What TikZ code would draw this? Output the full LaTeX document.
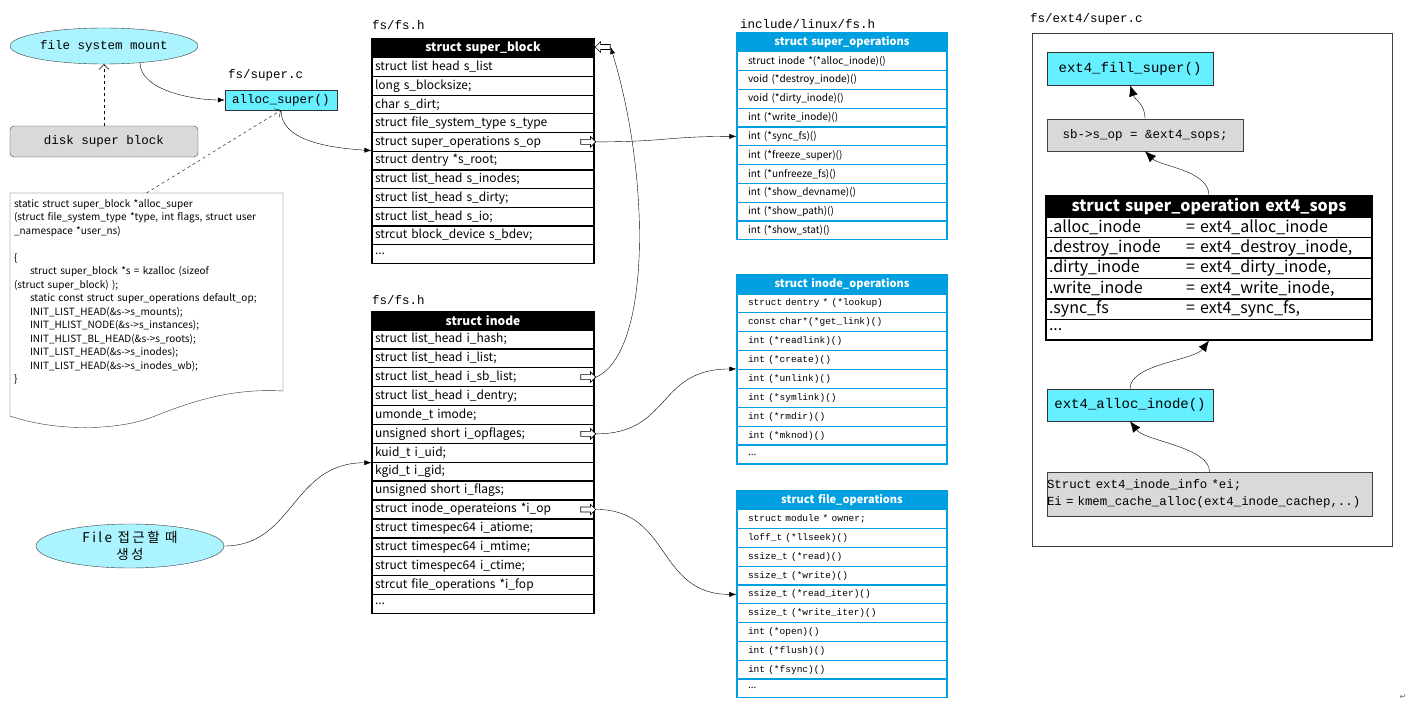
\documentclass[tikz,border=0pt]{standalone}
\usepackage{fontspec}
\setmainfont{Noto Sans CJK KR}
\setmonofont{Liberation Mono}
\newfontfamily\korfont[LetterSpace=18]{Noto Sans CJK KR}
\newfontfamily\symfont{DejaVu Sans}
\usetikzlibrary{shapes.geometric, shapes.arrows, arrows.meta, positioning}

\definecolor{mountcyan}{HTML}{ABF4FF}
\definecolor{funccyan}{HTML}{66F0FF}
\definecolor{diskgray}{HTML}{D9D9D9}
\definecolor{opblue}{HTML}{00A0E0}

\begin{document}
\begin{tikzpicture}[x=1pt, y=-1pt]
		\tikzstyle{Row} = [rectangle, draw=black, line width=1.2pt, fill=white, minimum height=18.7pt, text width=216pt, inner xsep=3pt, inner ysep=0pt, font=\fontsize{12}{12}\selectfont]
		\tikzstyle{Head} = [Row, fill=black, text=white, align=center, font=\bfseries\fontsize{12}{12}\selectfont]
		\tikzstyle{OpRow} = [rectangle, draw=opblue, line width=1.2pt, fill=white, minimum height=18.8pt, text width=188pt, inner xsep=11pt, inner ysep=0pt, font=\fontsize{10}{10}\selectfont]
		\tikzstyle{OpHead} = [OpRow, fill=opblue, text=white, align=center, font=\bfseries\fontsize{11}{11}\selectfont]
		\tikzstyle{OpMono} = [OpRow, font=\ttfamily\fontsize{9.5}{9.5}\selectfont]
		\tikzstyle{ExtRow} = [Row, minimum height=20.5pt, text width=320pt, font=\fontsize{16}{16}\selectfont]
		\tikzstyle{ExtHead} = [ExtRow, fill=black, text=white, align=center, minimum height=21pt, font=\bfseries\fontsize{16}{16}\selectfont]
		\tikzstyle{Ptr} = [single arrow, draw=black, fill=white, line width=0.6pt, minimum height=15pt, minimum width=10pt, single arrow head extend=2.8pt, inner sep=2.2pt]
		\tikzstyle{Func} = [rectangle, draw=black!80, fill=funccyan, inner sep=0pt, font=\ttfamily\fontsize{14}{14}\selectfont]
		\tikzstyle{Gray} = [rectangle, draw=black!75, fill=diskgray, inner sep=0pt, font=\ttfamily\fontsize{12.5}{12.5}\selectfont]
		\tikzstyle{Path} = [anchor=west, inner sep=0pt, font=\ttfamily\fontsize{12.5}{12.5}\selectfont]
		\tikzstyle{link} = [thin, -{Latex[length=7pt, width=5pt]}]
		\tikzstyle{biglink} = [thin, -{Latex[length=11pt, width=9pt]}]
		\tikzstyle{dashlink} = [thin, dashed, -{Straight Barb[length=5pt, width=10pt]}]
		
		\useasboundingbox (0,0) rectangle (1413,712);
		
		% file names
		\node (fsh1) [Path] at (372,25) {fs/fs.h};
		\node (superc) [Path] at (228,75) {fs/super.c};
		\node (fsh2) [Path] at (372,300) {fs/fs.h};
		\node (linuxfs) [Path] at (740,24) {include/linux/fs.h};
		\node (ext4c) [Path] at (1030,19) {fs/ext4/super.c};
		
		% mount and alloc_super
		\node (mount) [ellipse, draw=black!75, fill=mountcyan, minimum width=188pt, minimum height=36pt, inner sep=0pt, font=\ttfamily\fontsize{12.5}{12.5}\selectfont] at (104,46) {file system mount};
		\node (disk) [Gray, rounded corners=4pt, minimum width=188pt, minimum height=31pt] at (104,141.5) {disk super block};
		\node (alloc) [Func, minimum width=112pt, minimum height=20pt, font=\ttfamily\fontsize{12.5}{12.5}\selectfont] at (281,100) {alloc\_super()};
		
		\draw [thin, draw=black!80, fill=white] (10,193) -- (283,193) -- (283,391) .. controls (230,388) and (190,402) .. (150,418) .. controls (110,432) and (50,430) .. (10,416) -- cycle;
		\node (code) [anchor=north, text width=265pt, inner xsep=4pt, inner ysep=6pt, align=left, font=\fontsize{10}{13.5}\selectfont] at (146.5,193) {static struct super\_block *alloc\_super\\
(struct file\_system\_type *type, int flags, struct user\\
\_namespace *user\_ns)\\[13.5pt]
\{\\
\hspace*{16pt}struct super\_block *s = kzalloc (sizeof\\
(struct super\_block) );\\
\hspace*{16pt}static const struct super\_operations default\_op;\\
\hspace*{16pt}INIT\_LIST\_HEAD(\&s->s\_mounts);\\
\hspace*{16pt}INIT\_HLIST\_NODE(\&s->s\_instances);\\
\hspace*{16pt}INIT\_HLIST\_BL\_HEAD(\&s->s\_roots);\\
\hspace*{16pt}INIT\_LIST\_HEAD(\&s->s\_inodes);\\
\hspace*{16pt}INIT\_LIST\_HEAD(\&s->s\_inodes\_wb);\\
\}};
		
		\node (fileev) [ellipse, draw=black!75, fill=mountcyan, minimum width=188pt, minimum height=44pt, inner sep=0pt, align=center, font=\korfont\fontsize{13.5}{16.5}\selectfont] at (130,546) {File 접근할 때\\생성};
		
		% struct super_block
		\node (sb) [Head] at (483,48.35) {struct super\_block};
		\node (slist) [Row] at (483,67.05) {struct list head s\_list};
		\node (bsize) [Row] at (483,85.75) {long s\_blocksize;};
		\node (dirt) [Row] at (483,104.45) {char s\_dirt;};
		\node (stype) [Row] at (483,123.15) {struct file\_system\_type s\_type};
		\node (sop) [Row] at (483,141.85) {struct super\_operations s\_op};
		\node (sroot) [Row] at (483,160.55) {struct dentry *s\_root;};
		\node (sinodes) [Row] at (483,179.25) {struct list\_head s\_inodes;};
		\node (sdirty) [Row] at (483,197.95) {struct list\_head s\_dirty;};
		\node (sio) [Row] at (483,216.65) {struct list\_head s\_io;};
		\node (sbdev) [Row] at (483,235.35) {strcut block\_device s\_bdev;};
		\node (sdots) [Row] at (483,254.05) {...};
		\node (sopptr) [Ptr] at (587,141.85) {};
		\node (sbptr) [Ptr, shape border rotate=180] at (604,47) {};
		
		% struct inode
		\node (ino) [Head] at (483,320.45) {struct inode};
		\node (ihash) [Row] at (483,339.35) {struct list\_head i\_hash;};
		\node (ilist) [Row] at (483,358.25) {struct list\_head i\_list;};
		\node (isblist) [Row] at (483,377.15) {struct list\_head i\_sb\_list;};
		\node (identry) [Row] at (483,396.05) {struct list\_head i\_dentry;};
		\node (imode) [Row] at (483,414.95) {umonde\_t imode;};
		\node (iopfl) [Row] at (483,433.85) {unsigned short i\_opflages;};
		\node (uid) [Row] at (483,452.75) {kuid\_t i\_uid;};
		\node (gid) [Row] at (483,471.65) {kgid\_t i\_gid;};
		\node (iflags) [Row] at (483,490.55) {unsigned short i\_flags;};
		\node (iop) [Row] at (483,509.45) {struct inode\_operateions *i\_op};
		\node (atime) [Row] at (483,528.35) {struct timespec64 i\_atiome;};
		\node (mtime) [Row] at (483,547.25) {struct timespec64 i\_mtime;};
		\node (ctime) [Row] at (483,566.15) {struct timespec64 i\_ctime;};
		\node (ifop) [Row] at (483,585.05) {strcut file\_operations *i\_fop};
		\node (idots) [Row] at (483,603.95) {...};
		\node (sblptr) [Ptr] at (587,377.15) {};
		\node (opfptr) [Ptr] at (587,433.85) {};
		\node (iopptr) [Ptr] at (587,509.45) {};
		
		% struct super_operations
		\node (sops) [OpHead] at (842,42.4) {struct super\_operations};
		\node (allocino) [OpRow] at (842,61.2) {struct inode *(*alloc\_inode)()};
		\node (destroy) [OpRow] at (842,80) {void (*destroy\_inode)()};
		\node (dirty) [OpRow] at (842,98.8) {void (*dirty\_inode)()};
		\node (write) [OpRow] at (842,117.6) {int (*write\_inode)()};
		\node (syncfs) [OpRow] at (842,136.4) {int (*sync\_fs)()};
		\node (freeze) [OpRow] at (842,155.2) {int (*freeze\_super)()};
		\node (unfreeze) [OpRow] at (842,174) {int (*unfreeze\_fs)()};
		\node (devname) [OpRow] at (842,192.8) {int (*show\_devname)()};
		\node (spath) [OpRow] at (842,211.6) {int (*show\_path)()};
		\node (sstat) [OpRow] at (842,230.4) {int (*show\_stat)()};
		
		% struct inode_operations
		\node (iops) [OpHead] at (842,284.45) {struct inode\_operations};
		\node (lookup) [OpMono] at (842,303.35) {struct dentry * (*lookup)};
		\node (getlink) [OpMono] at (842,322.25) {const char*(*get\_link)()};
		\node (readlink) [OpMono] at (842,341.15) {int (*readlink)()};
		\node (create) [OpMono] at (842,360.05) {int (*create)()};
		\node (unlink) [OpMono] at (842,378.95) {int (*unlink)()};
		\node (symlink) [OpMono] at (842,397.85) {int (*symlink)()};
		\node (rmdir) [OpMono] at (842,416.75) {int (*rmdir)()};
		\node (mknod) [OpMono] at (842,435.65) {int (*mknod)()};
		\node (idots2) [OpRow] at (842,454.55) {...};
		
		% struct file_operations
		\node (fops) [OpHead] at (842,500.4) {struct file\_operations};
		\node (owner) [OpMono] at (842,519.2) {struct module * owner;};
		\node (llseek) [OpMono] at (842,538) {loff\_t (*llseek)()};
		\node (fread) [OpMono] at (842,556.8) {ssize\_t (*read)()};
		\node (fwrite) [OpMono] at (842,575.6) {ssize\_t (*write)()};
		\node (readiter) [OpMono] at (842,594.4) {ssize\_t (*read\_iter)()};
		\node (writeiter) [OpMono] at (842,613.2) {ssize\_t (*write\_iter)()};
		\node (fopen) [OpMono] at (842,632) {int (*open)()};
		\node (flush) [OpMono] at (842,650.8) {int (*flush)()};
		\node (fsync) [OpMono] at (842,669.6) {int (*fsync)()};
		\node (fdots) [OpRow] at (842,688.4) {...};
		
		% ext4 side
		\draw [draw=black!75] (1032,33) rectangle (1392,546);
		\node (fill) [Func, minimum width=166pt, minimum height=33pt] at (1130,68.5) {ext4\_fill\_super()};
		\node (sbop) [Gray, minimum width=196pt, minimum height=32pt] at (1145,135) {sb->s\_op = \&ext4\_sops;};
		\node (esops) [ExtHead] at (1209,206.5) {struct super\_operation ext4\_sops};
		\node (ealloc) [ExtRow] at (1209,227.25) {\makebox[137pt][l]{.alloc\_inode}= ext4\_alloc\_inode};
		\node (edestroy) [ExtRow] at (1209,247.75) {\makebox[137pt][l]{.destroy\_inode}= ext4\_destroy\_inode,};
		\node (edirty) [ExtRow] at (1209,268.25) {\makebox[137pt][l]{.dirty\_inode}= ext4\_dirty\_inode,};
		\node (ewrite) [ExtRow] at (1209,288.75) {\makebox[137pt][l]{.write\_inode}= ext4\_write\_inode,};
		\node (esync) [ExtRow] at (1209,309.25) {\makebox[137pt][l]{.sync\_fs}= ext4\_sync\_fs,};
		\node (edots) [ExtRow] at (1209,329.75) {...};
		\node (ainode) [Func, minimum width=166pt, minimum height=32pt] at (1130,405) {ext4\_alloc\_inode()};
		\node (info) [Gray, minimum width=325pt, minimum height=44pt, text width=325pt, align=left, font=\ttfamily\fontsize{12.4}{17}\selectfont] at (1209.5,494) {Struct ext4\_inode\_info *ei;\\Ei = kmem\_cache\_alloc(ext4\_inode\_cachep,..)};
		\node (ret) [font=\symfont\fontsize{8}{8}\selectfont, text=black!60, inner sep=0pt] at (1403,697) {↵};
		
		% connections
		\draw [dashlink] (disk.north) -- (mount.south);
		\draw [link] (mount.-25) .. controls +(0,28) and +(-30,0) .. (alloc.west);
		\draw [link] (alloc.south) .. controls +(0,30) and +(-45,-3) .. (sroot.north west);
		\draw [dashlink] (code.north) -- (alloc.south);
		\draw [link] (fileev.east) .. controls +(70,0) and +(-80,0) .. (uid.south west);
		
		\draw [link] (sopptr.east) .. controls +(70,0) and +(-70,0) .. (syncfs.west);
		\draw [link] (sblptr.east) .. controls +(55,-25) and +(40,130) .. (sbptr.east);
		\draw [link] (opfptr.east) .. controls +(75,0) and +(-80,0) .. (unlink.north west);
		\draw [link] (iopptr.east) .. controls +(75,0) and +(-80,0) .. (readiter.west);
		
		\draw [biglink] (sbop.north) .. controls +(0,-15) and +(5,15) .. (fill.south);
		\draw [biglink] (esops.north) .. controls +(0,-25) and +(15,15) .. (sbop.south);
		\draw [biglink] (ainode.north) .. controls +(0,-25) and +(-15,20) .. (edots.south);
		\draw [biglink] (info.north) .. controls +(0,-25) and +(15,20) .. (ainode.south);
\end{tikzpicture}
\end{document}
